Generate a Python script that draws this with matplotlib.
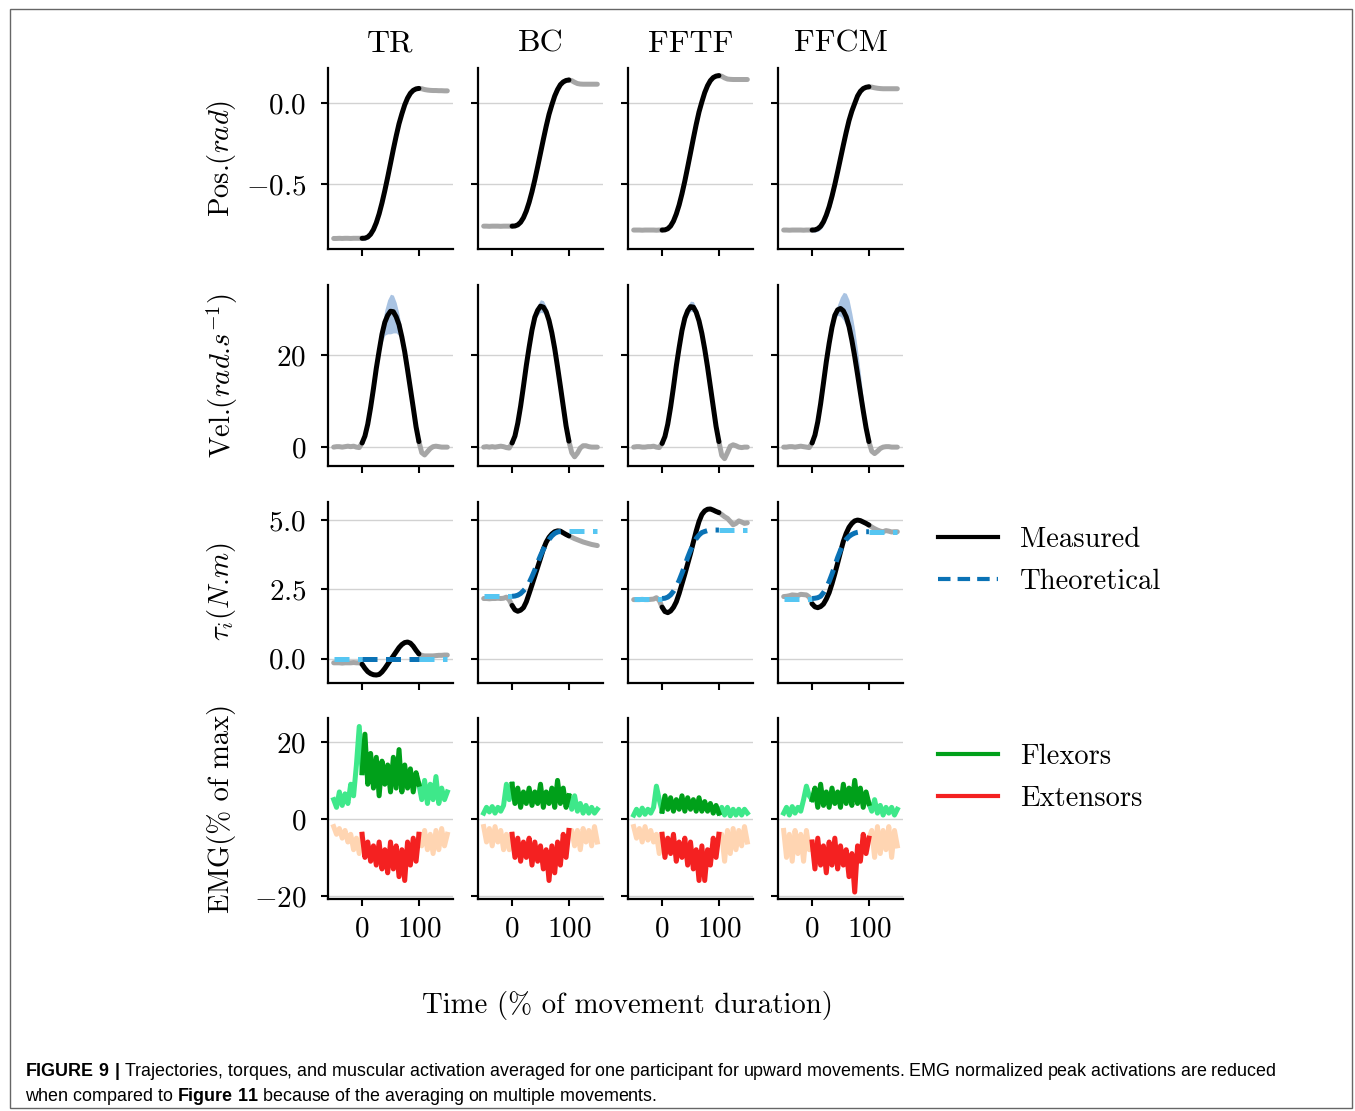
import numpy as np
import matplotlib
matplotlib.use("Agg")
import matplotlib.pyplot as plt
from matplotlib.lines import Line2D
from matplotlib.patches import Rectangle

plt.rcParams['font.family'] = 'serif'
plt.rcParams['font.serif'] = ['cmr10']
plt.rcParams['mathtext.fontset'] = 'cm'
plt.rcParams['mathtext.bf'] = 'Liberation Sans:bold'
plt.rcParams['axes.formatter.use_mathtext'] = True

# ---- data ----
conditions = ["TR", "BC", "FFTF", "FFCM"]
t = np.arange(-50, 151, 5)   # % of movement duration, 41 samples

# position (rad)
pos_tr = [-0.836, -0.836, -0.835, -0.836, -0.835, -0.835, -0.836, -0.835, -0.835, -0.835,
          -0.835, -0.834, -0.827, -0.810, -0.781, -0.739, -0.684, -0.617, -0.541, -0.459,
          -0.373, -0.286, -0.204, -0.128, -0.067, -0.012, 0.030, 0.060, 0.078, 0.087, 0.090,
          0.088, 0.083, 0.080, 0.078, 0.077, 0.077, 0.076, 0.076, 0.075, 0.075]
pos_bc = [-0.760, -0.760, -0.761, -0.760, -0.760, -0.760, -0.761, -0.760, -0.760, -0.760,
          -0.760, -0.759, -0.752, -0.736, -0.708, -0.667, -0.613, -0.548, -0.474, -0.393,
          -0.309, -0.225, -0.144, -0.070, -0.011, 0.043, 0.083, 0.113, 0.130, 0.139, 0.142,
          0.138, 0.128, 0.120, 0.117, 0.116, 0.116, 0.116, 0.116, 0.116, 0.116]
pos_fftf = [-0.784, -0.784, -0.784, -0.785, -0.784, -0.784, -0.784, -0.784, -0.785, -0.784,
            -0.784, -0.783, -0.776, -0.759, -0.729, -0.685, -0.629, -0.560, -0.482, -0.396,
            -0.308, -0.219, -0.133, -0.055, 0.007, 0.064, 0.107, 0.138, 0.157, 0.166, 0.169,
            0.165, 0.155, 0.148, 0.146, 0.145, 0.145, 0.145, 0.145, 0.145, 0.145]
pos_ffcm = [-0.784, -0.784, -0.785, -0.784, -0.784, -0.784, -0.784, -0.785, -0.784, -0.784,
            -0.784, -0.783, -0.776, -0.761, -0.733, -0.692, -0.640, -0.576, -0.503, -0.424,
            -0.342, -0.260, -0.181, -0.108, -0.050, -0.003, 0.043, 0.072, 0.089, 0.097, 0.100,
            0.098, 0.094, 0.091, 0.089, 0.088, 0.088, 0.088, 0.088, 0.088, 0.088]
# std of position over the movement (t = 0..100)
pos_sd_tr = [0.014, 0.014, 0.012, 0.012, 0.012, 0.012, 0.012, 0.012, 0.012, 0.012, 0.012,
             0.012, 0.012, 0.012, 0.010, 0.008, 0.006, 0.005, 0.005, 0.005, 0.005]
pos_sd_bc = [0.004, 0.004, 0.004, 0.004, 0.004, 0.004, 0.004, 0.004, 0.004, 0.004, 0.004,
             0.004, 0.004, 0.004, 0.004, 0.004, 0.004, 0.004, 0.004, 0.004, 0.004]
pos_sd_fftf = [0.004, 0.004, 0.004, 0.004, 0.004, 0.004, 0.004, 0.004, 0.004, 0.004, 0.004,
               0.004, 0.004, 0.004, 0.004, 0.004, 0.004, 0.004, 0.004, 0.004, 0.004]
pos_sd_ffcm = [0.012, 0.014, 0.016, 0.020, 0.026, 0.030, 0.034, 0.036, 0.036, 0.036, 0.034,
               0.032, 0.028, 0.024, 0.018, 0.014, 0.010, 0.008, 0.006, 0.005, 0.005]

# velocity (rad/s)
vel_tr = [0.0, 0.1, 0.1, 0.0, 0.1, 0.2, 0.1, 0.2, 0.0, -0.1,
          0.9, 2.4, 5.0, 8.6, 12.7, 17.1, 20.9, 24.5, 27.1, 28.6, 29.5, 29.4, 28.3, 26.6,
          23.9, 20.7, 16.8, 12.7, 8.6, 4.4, 1.2,
          -1.2, -1.7, -1.0, -0.3, 0.1, 0.2, 0.1, 0.0, 0.0, 0.0]
vel_bc = [0.0, 0.1, 0.0, 0.1, 0.0, 0.1, 0.2, 0.1, -0.1, -0.2,
          0.9, 2.4, 5.2, 8.9, 13.2, 17.7, 21.7, 25.4, 28.2, 29.7, 30.6, 30.4, 29.4, 27.5,
          24.8, 21.4, 17.4, 13.2, 8.9, 4.6, 1.3,
          -1.2, -2.1, -1.3, -0.2, 0.3, 0.3, 0.1, 0.0, 0.0, 0.0]
vel_fftf = [0.0, 0.1, 0.1, 0.0, 0.0, 0.1, 0.1, 0.2, 0.0, -0.1,
            0.8, 2.3, 5.0, 8.7, 13.0, 17.6, 21.6, 25.3, 28.0, 29.6, 30.5, 30.4, 29.3, 27.4,
            24.7, 21.3, 17.4, 13.1, 8.8, 4.5, 1.2,
            -1.8, -2.5, -1.2, 0.2, 0.5, 0.3, 0.0, -0.1, 0.0, 0.0]
vel_ffcm = [0.0, 0.0, 0.1, 0.1, 0.0, 0.1, 0.2, 0.1, 0.0, -0.1,
            0.9, 2.6, 5.5, 9.4, 13.9, 18.5, 22.5, 26.0, 28.6, 29.8, 30.1, 29.6, 28.3, 26.2,
            23.2, 19.7, 15.8, 11.8, 7.9, 4.2, 1.2,
            -0.9, -1.4, -0.9, -0.3, 0.0, 0.1, 0.1, 0.0, 0.0, 0.0]
# velocity spread (t = 0..100)
vel_hi_tr = [1.0, 2.6, 5.3, 9.0, 13.2, 17.8, 21.9, 26.3, 29.8, 32.0, 33.2, 33.0, 31.4, 28.9,
             25.3, 21.6, 17.4, 13.0, 8.8, 4.5, 1.3]
vel_lo_tr = [0.8, 2.2, 4.7, 8.2, 12.2, 16.4, 19.9, 22.6, 24.3, 24.6, 24.6, 24.8, 24.8, 24.2,
             22.5, 19.8, 16.2, 12.4, 8.4, 4.3, 1.1]
vel_hi_bc = [1.0, 2.5, 5.4, 9.2, 13.6, 18.2, 22.3, 26.1, 29.1, 30.9, 32.0, 31.8, 30.6, 28.5,
             25.5, 21.9, 17.8, 13.5, 9.1, 4.7, 1.4]
vel_lo_bc = [0.8, 2.3, 5.0, 8.6, 12.8, 17.2, 21.1, 24.7, 27.3, 28.6, 29.3, 29.1, 28.3, 26.6,
             24.1, 20.9, 17.0, 12.9, 8.7, 4.5, 1.2]
vel_hi_fftf = [0.9, 2.4, 5.2, 9.0, 13.4, 18.1, 22.2, 26.0, 28.9, 30.7, 31.7, 31.6, 30.3, 28.2,
               25.3, 21.8, 17.7, 13.3, 8.9, 4.6, 1.3]
vel_lo_fftf = [0.7, 2.2, 4.8, 8.4, 12.6, 17.1, 21.0, 24.6, 27.1, 28.6, 29.5, 29.4, 28.4, 26.6,
               24.1, 20.8, 17.1, 12.9, 8.7, 4.4, 1.1]
vel_hi_ffcm = [1.0, 2.7, 5.6, 9.5, 14.0, 18.7, 22.8, 26.5, 29.2, 31.0, 32.6, 33.6, 33.4, 32.0,
               29.0, 25.5, 21.0, 16.0, 10.5, 5.5, 1.5]
vel_lo_ffcm = [0.8, 2.5, 5.3, 9.2, 13.6, 18.1, 22.0, 25.3, 27.7, 28.6, 28.4, 27.6, 26.3, 24.5,
               21.9, 18.8, 15.2, 11.4, 7.6, 4.0, 1.0]

# interaction torque (N.m): measured and theoretical
tq_tr = [-0.15, -0.15, -0.15, -0.16, -0.15, -0.15, -0.15, -0.14, -0.15, -0.15,
         -0.20, -0.35, -0.47, -0.54, -0.58, -0.59, -0.57, -0.48, -0.35, -0.20, -0.05,
         0.10, 0.25, 0.40, 0.51, 0.58, 0.60, 0.56, 0.45, 0.30, 0.17,
         0.12, 0.10, 0.10, 0.10, 0.10, 0.11, 0.12, 0.12, 0.13, 0.13]
th_tr = [0.0, 0.0, 0.0, 0.0, 0.0, 0.0, 0.0, 0.0, 0.0, 0.0,
         0.0, 0.0, 0.0, 0.0, 0.0, 0.0, 0.0, 0.0, 0.0, 0.0, 0.0,
         0.0, 0.0, 0.0, 0.0, 0.0, 0.0, 0.0, 0.0, 0.0, 0.0,
         0.0, 0.0, 0.0, 0.0, 0.0, 0.0, 0.0, 0.0, 0.0, 0.0]
tq_bc = [2.17, 2.17, 2.16, 2.17, 2.17, 2.18, 2.17, 2.18, 2.22, 2.12,
         1.92, 1.76, 1.71, 1.75, 1.84, 2.05, 2.35, 2.66, 2.98, 3.30, 3.62,
         3.95, 4.20, 4.38, 4.50, 4.58, 4.61, 4.60, 4.54, 4.48, 4.43,
         4.38, 4.33, 4.29, 4.25, 4.21, 4.18, 4.15, 4.12, 4.10, 4.08]
th_bc = [2.25, 2.25, 2.25, 2.25, 2.25, 2.25, 2.25, 2.25, 2.25, 2.25,
         2.25, 2.26, 2.29, 2.35, 2.45, 2.56, 2.74, 2.96, 3.20, 3.47, 3.72,
         3.94, 4.13, 4.30, 4.43, 4.52, 4.57, 4.59, 4.60, 4.60, 4.60,
         4.60, 4.60, 4.60, 4.60, 4.60, 4.60, 4.60, 4.60, 4.60, 4.60]
tq_fftf = [2.13, 2.13, 2.13, 2.14, 2.13, 2.13, 2.14, 2.15, 2.20, 2.10,
           1.86, 1.70, 1.66, 1.72, 1.85, 2.05, 2.35, 2.70, 3.05, 3.42, 3.79,
           4.20, 4.60, 4.95, 5.20, 5.33, 5.39, 5.40, 5.36, 5.31, 5.27,
           5.20, 5.12, 5.06, 4.95, 4.83, 4.88, 4.97, 4.93, 4.88, 4.90]
th_fftf = [2.17, 2.17, 2.17, 2.17, 2.17, 2.17, 2.17, 2.17, 2.17, 2.17,
           2.17, 2.18, 2.22, 2.30, 2.43, 2.60, 2.82, 3.08, 3.36, 3.65, 3.91,
           4.13, 4.33, 4.46, 4.55, 4.59, 4.62, 4.63, 4.64, 4.64, 4.64,
           4.64, 4.64, 4.64, 4.64, 4.64, 4.64, 4.64, 4.64, 4.64, 4.64]
tq_ffcm = [2.24, 2.25, 2.27, 2.30, 2.29, 2.28, 2.32, 2.31, 2.30, 2.22,
           1.98, 1.87, 1.84, 1.88, 1.97, 2.15, 2.38, 2.70, 3.06, 3.45, 3.85,
           4.23, 4.52, 4.74, 4.88, 4.97, 5.00, 4.98, 4.93, 4.88, 4.82,
           4.75, 4.69, 4.64, 4.60, 4.58, 4.62, 4.60, 4.57, 4.58, 4.58]
th_ffcm = [2.17, 2.17, 2.17, 2.17, 2.17, 2.17, 2.17, 2.17, 2.17, 2.17,
           2.17, 2.18, 2.20, 2.25, 2.38, 2.55, 2.78, 3.05, 3.35, 3.65, 3.91,
           4.13, 4.30, 4.41, 4.48, 4.53, 4.56, 4.58, 4.58, 4.58, 4.58,
           4.58, 4.58, 4.58, 4.58, 4.58, 4.58, 4.58, 4.58, 4.58, 4.58]

# EMG (% of max): flexors positive, extensors negative
flex_tr = [5, 3, 7, 3.5, 6.5, 4, 9, 6, 14, 24,
           12, 22, 9, 17, 8, 16, 6, 15, 9, 14, 7, 16, 8, 18, 7, 14, 8, 13, 7, 12, 9,
           5, 10, 4, 9, 5, 11, 4, 8, 5, 7]
ext_tr = [-2, -4, -2.5, -5, -3, -6, -4, -8, -5, -9,
          -4, -10, -6, -11, -7, -12, -6, -13, -8, -14, -6, -13, -7, -15, -8, -16, -6, -12, -5, -11, -4,
          -7, -3, -8, -4, -9, -3, -8, -2.5, -7, -4]
flex_bc = [1.5, 3, 1.8, 3.2, 1.5, 3, 2, 3.5, 9, 5,
           9, 4, 8, 3, 7, 4, 8, 3.5, 7, 4, 9, 3, 7, 4, 8, 3, 10, 4, 8, 3, 6,
           2.5, 6, 2, 4, 1.5, 3.5, 1.5, 3, 1.5, 2.5]
ext_bc = [-2, -6, -2.5, -7, -2, -6, -3, -8, -4, -8,
          -4, -10, -5, -11, -6, -10, -5, -12, -6, -11, -7, -13, -8, -16, -7, -14, -6, -12, -4, -10, -3,
          -3, -7, -3, -8, -2.5, -6, -3, -7, -2, -6]
flex_fftf = [1, 2.5, 1, 2.8, 1.2, 2.5, 1.5, 3, 8.5, 5,
             2, 6, 2.5, 5.5, 2, 5, 2.5, 6, 2, 5.5, 2.5, 5, 2, 5.5, 2, 4.5, 2, 4, 1.5, 3.5, 1.5,
             3, 1, 3, 0.8, 2.5, 1, 2.5, 1, 2.5, 1.5]
ext_fftf = [-2, -5, -2.5, -6, -2, -5.5, -3, -6, -4, -9,
            -4, -10, -5, -9, -4, -11, -6, -10, -5, -12, -6, -13, -8, -16, -7, -16, -8, -12, -5, -10, -4,
            -4, -11, -3, -9, -2.5, -8, -3, -7, -2, -6]
flex_ffcm = [1.5, 3, 1, 3.2, 1.5, 3, 2, 5, 8.5, 6,
             5, 8, 3, 9, 3.5, 7, 3, 8, 4, 7, 3, 9, 4, 8, 3.5, 10, 4, 8, 3, 7, 4,
             2, 5, 1.5, 3.5, 1, 3, 1.5, 3, 1, 2.5]
ext_ffcm = [-3, -10, -4, -11, -3, -9, -4, -11, -3, -8,
            -6, -13, -5, -12, -7, -14, -6, -12, -5, -13, -7, -12, -8, -15, -9, -19, -7, -11, -4, -9, -5,
            -3, -10, -2, -9, -3, -8, -2, -10, -3, -7]

pos_all = [pos_tr, pos_bc, pos_fftf, pos_ffcm]
pos_sd_all = [pos_sd_tr, pos_sd_bc, pos_sd_fftf, pos_sd_ffcm]
vel_all = [vel_tr, vel_bc, vel_fftf, vel_ffcm]
vel_hi_all = [vel_hi_tr, vel_hi_bc, vel_hi_fftf, vel_hi_ffcm]
vel_lo_all = [vel_lo_tr, vel_lo_bc, vel_lo_fftf, vel_lo_ffcm]
tq_all = [tq_tr, tq_bc, tq_fftf, tq_ffcm]
th_all = [th_tr, th_bc, th_fftf, th_ffcm]
flex_all = [flex_tr, flex_bc, flex_fftf, flex_ffcm]
ext_all = [ext_tr, ext_bc, ext_fftf, ext_ffcm]

# ---- styling ----
GRAY = '#a6a6a6'
BAND = '#a9c3e2'
TH_DARK = '#0a72b5'
TH_LIGHT = '#56c6f2'
FLEX_DARK = '#00a01a'
FLEX_LIGHT = '#3ee88a'
EXT_DARK = '#f42121'
EXT_LIGHT = '#ffd5b2'
LW = 3.6
DASH = (0, (3, 1.7))
FS = 20.6

pre = slice(0, 11)
mid = slice(10, 31)
post = slice(30, 41)

W, H = 1355, 1111
fig = plt.figure(figsize=(W / 100, H / 100), dpi=100)

col_left = [328, 478, 628, 778]
row_top = [68, 285, 501.5, 718]
ax_w, ax_h = 125, 181
ylims = [(-0.901, 0.216), (-4.1, 35.2), (-0.86, 5.67), (-20.8, 26.2)]
yticks = [[-0.5, 0.0], [0, 20], [0.0, 2.5, 5.0], [-20, 0, 20]]
# the dot is kept outside math mode so mathtext adds no space after it
ylabels = [r"Pos.$(rad)$", r"Vel.$(rad$.$s^{-1})$", r"$\tau_i(N$.$m)$", "EMG(% of max)"]

tm = t[mid]
for r in range(4):
    for c in range(4):
        ax = fig.add_axes([col_left[c] / W, 1 - (row_top[r] + ax_h) / H, ax_w / W, ax_h / H])
        ax.set_xlim(-60, 160)
        ax.set_ylim(*ylims[r])
        ax.set_xticks([0, 100])
        ax.set_yticks(yticks[r])
        ax.grid(axis='y', color='#d2d2d2', lw=1.0)
        ax.set_axisbelow(True)
        for s in ['top', 'right']:
            ax.spines[s].set_visible(False)
        for s in ['left', 'bottom']:
            ax.spines[s].set_linewidth(1.6)
        ax.tick_params(direction='out', length=5, width=1.5, labelsize=21)
        ax.tick_params(axis='y', pad=10.5)
        ax.tick_params(axis='x', pad=7)
        if c > 0:
            ax.tick_params(labelleft=False)
        if r < 3:
            ax.tick_params(labelbottom=False)

        if r == 0:
            y = np.array(pos_all[c])
            sd = np.array(pos_sd_all[c])
            ax.fill_between(tm, y[mid] - sd, y[mid] + sd, color=BAND, lw=0)
            ax.plot(t[pre], y[pre], color=GRAY, lw=LW, solid_capstyle='round')
            ax.plot(t[post], y[post], color=GRAY, lw=LW, solid_capstyle='round')
            ax.plot(tm, y[mid], color='black', lw=LW, solid_capstyle='round')
        elif r == 1:
            y = np.array(vel_all[c])
            ax.fill_between(tm, vel_lo_all[c], vel_hi_all[c], color=BAND, lw=0)
            ax.plot(t[pre], y[pre], color=GRAY, lw=LW, solid_capstyle='round')
            ax.plot(t[post], y[post], color=GRAY, lw=LW, solid_capstyle='round')
            ax.plot(tm, y[mid], color='black', lw=LW, solid_capstyle='round')
        elif r == 2:
            y = np.array(tq_all[c])
            th = np.array(th_all[c])
            ax.plot(t[pre], y[pre], color=GRAY, lw=LW, solid_capstyle='round')
            ax.plot(t[post], y[post], color=GRAY, lw=LW, solid_capstyle='round')
            ax.plot(tm, y[mid], color='black', lw=LW, solid_capstyle='round')
            ax.plot(t[pre], th[pre], color=TH_LIGHT, lw=LW, ls=DASH)
            ax.plot(t[post], th[post], color=TH_LIGHT, lw=LW, ls=DASH)
            ax.plot(tm, th[mid], color=TH_DARK, lw=LW, ls=DASH)
        else:
            f = np.array(flex_all[c])
            e = np.array(ext_all[c])
            for seg in (pre, post):
                ax.plot(t[seg], f[seg], color=FLEX_LIGHT, lw=LW)
                ax.plot(t[seg], e[seg], color=EXT_LIGHT, lw=LW)
            ax.plot(tm, f[mid], color=FLEX_DARK, lw=LW)
            ax.plot(tm, e[mid], color=EXT_DARK, lw=LW)

        if r == 0:
            fig.text((col_left[c] + ax_w / 2) / W, 1 - 52 / H, conditions[c],
                     ha='center', va='baseline', fontsize=23)
    fig.text(222 / W, 1 - (row_top[r] + ax_h / 2) / H, ylabels[r], rotation=90,
             ha='center', va='center', fontsize=FS)

fig.text(627 / W, 1 - 1013 / H, "Time (% of movement duration)", ha='center',
         va='baseline', fontsize=20.8)

h1 = [Line2D([], [], color='black', lw=3),
      Line2D([], [], color=TH_DARK, lw=3, ls=DASH)]
fig.legend(h1, ["Measured", "Theoretical"], loc='center left',
           bbox_to_anchor=(938 / W, 1 - 560.5 / H), frameon=False, fontsize=FS,
           handlelength=2.1, handletextpad=0.78, labelspacing=0.55,
           borderpad=0, borderaxespad=0)
h2 = [Line2D([], [], color=FLEX_DARK, lw=3),
      Line2D([], [], color=EXT_DARK, lw=3)]
fig.legend(h2, ["Flexors", "Extensors"], loc='center left',
           bbox_to_anchor=(938 / W, 1 - 778 / H), frameon=False, fontsize=FS,
           handlelength=2.1, handletextpad=0.78, labelspacing=0.55,
           borderpad=0, borderaxespad=0)

# caption and frame
fig.text(25 / W, 1 - 1076 / H,
         r"$\mathbf{FIGURE\ 9\ |}$ Trajectories, torques, and muscular activation averaged for one "
         "participant for upward movements. EMG normalized peak activations are reduced",
         family='Liberation Sans', math_fontfamily='custom', fontsize=12.9, va='baseline')
fig.text(25 / W, 1 - 1101 / H,
         r"when compared to $\mathbf{Figure\ 11}$ because of the averaging on multiple movements.",
         family='Liberation Sans', math_fontfamily='custom', fontsize=12.9, va='baseline')
fig.add_artist(Rectangle((10 / W, 1 - 1108 / H), 1342 / W, 1099 / H, transform=fig.transFigure,
                         fill=False, ec='#666666', lw=1.0))

fig.savefig("out.png", dpi=100)
